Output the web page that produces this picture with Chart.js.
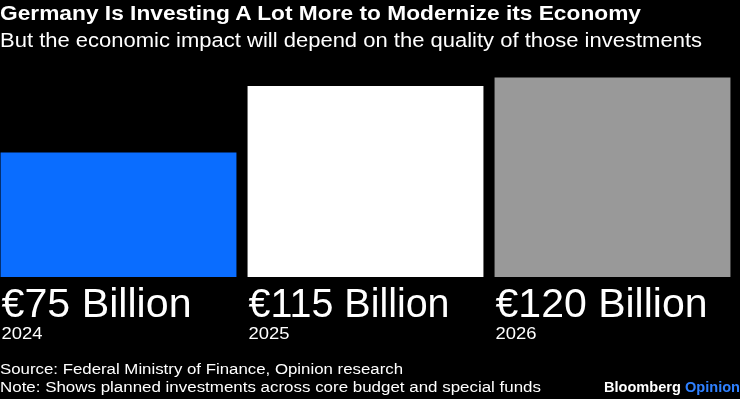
<!DOCTYPE html>
<html>
<head>
<meta charset="utf-8">
<script src="https://cdn.jsdelivr.net/npm/chart.js@4"></script>
<style>
  html, body { margin: 0; padding: 0; background: #000; }
  body { width: 740px; height: 399px; position: relative; overflow: hidden; font-family: "Liberation Sans", Arial, sans-serif; color: #fff; }
  .txt { position: absolute; left: 0; white-space: nowrap; transform-origin: 0 0; }
  #title { top: 3px; font-size: 20px; line-height: 20px; font-weight: bold; }
  #subtitle { top: 30px; font-size: 20px; line-height: 20px; }
  #source { top: 362px; font-size: 14px; line-height: 14px; }
  #note { top: 380px; font-size: 14px; line-height: 14px; }
  #logo { top: 380px; left: 604px; font-size: 14px; line-height: 14px; font-weight: bold; }
  #logo span { color: #2f80ff; }
  #wrap { position: absolute; left: -5px; top: 0; width: 741px; height: 399px; }
</style>
</head>
<body>
<div id="wrap"><canvas id="myChart"></canvas></div>
<div class="txt" id="title" data-w="641">Germany Is Investing A Lot More to Modernize its Economy</div>
<div class="txt" id="subtitle" data-w="702">But the economic impact will depend on the quality of those investments</div>
<div class="txt" id="source" data-w="403">Source: Federal Ministry of Finance, Opinion research</div>
<div class="txt" id="note" data-w="541">Note: Shows planned investments across core budget and special funds</div>
<div class="txt" id="logo" data-w="136">Bloomberg <span>Opinion</span></div>
<script>
const years = ['2024', '2025', '2026'];
const investments = [75, 115, 120]; // EUR billion
const valueLabels = ['€75 Billion', '€115 Billion', '€120 Billion'];
const barColors = ['#0a6dff', '#ffffff', '#999999'];
const labelWidths = [190, 201, 212]; // rendered width of each big label

// squeeze/stretch html text so it spans the same width as the original
document.querySelectorAll('.txt').forEach(el => {
  const w = el.getBoundingClientRect().width;
  const target = +el.dataset.w;
  el.style.transform = `scaleX(${target / w})`;
});

function fillFit(ctx, text, x, y, width) {
  const w = ctx.measureText(text).width;
  ctx.save();
  ctx.translate(x, y);
  if (width) ctx.scale(width / w, 1);
  ctx.fillText(text, 0, 0);
  ctx.restore();
}

const labelPlugin = {
  id: 'barLabels',
  afterDatasetsDraw(chart) {
    const ctx = chart.ctx;
    const meta = chart.getDatasetMeta(0);
    ctx.save();
    ctx.fillStyle = '#ffffff';
    ctx.textAlign = 'left';
    ctx.textBaseline = 'alphabetic';
    meta.data.forEach((bar, i) => {
      const left = bar.x - bar.width / 2;
      ctx.font = '40px "Liberation Sans", Arial, sans-serif';
      fillFit(ctx, valueLabels[i], left + 1, 317, labelWidths[i]);
      ctx.font = '17px "Liberation Sans", Arial, sans-serif';
      fillFit(ctx, years[i], left + 1, 339, 41);
    });
    ctx.restore();
  }
};

new Chart(document.getElementById('myChart'), {
  type: 'bar',
  data: {
    labels: years,
    datasets: [{
      data: investments,
      backgroundColor: barColors,
      borderWidth: 0,
      barPercentage: 0.955,
      categoryPercentage: 1
    }]
  },
  options: {
    responsive: true,
    maintainAspectRatio: false,
    animation: false,
    layout: { padding: { top: 61, bottom: 122, left: 0, right: 0 } },
    scales: {
      x: { display: false },
      y: { display: false, min: 0, max: 130 }
    },
    plugins: {
      legend: { display: false },
      tooltip: { enabled: false }
    }
  },
  plugins: [labelPlugin]
});
</script>
</body>
</html>
